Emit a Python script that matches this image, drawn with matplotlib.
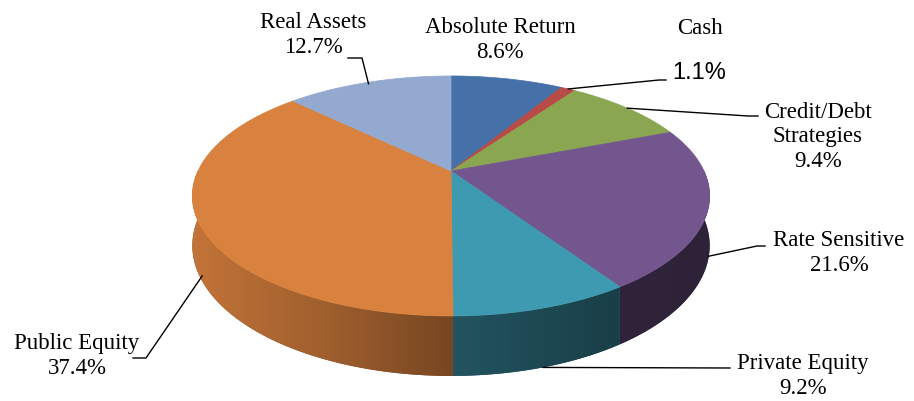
"""3D-style pie chart of asset allocation drawn with plain matplotlib patches."""
import numpy as np
import matplotlib
matplotlib.use("Agg")
import matplotlib.pyplot as plt
from matplotlib.patches import Polygon
from matplotlib.colors import to_rgb

# data
labels = ["Absolute Return", "Cash", "Credit/Debt\nStrategies", "Rate Sensitive",
          "Private Equity", "Public Equity", "Real Assets"]
shares = [8.6, 1.1, 9.4, 21.6, 9.2, 37.4, 12.7]
colors = ["#4571a8", "#b84a47", "#8aa650", "#73568e", "#3e9ab0", "#d9813e", "#93a9d0"]

# layout (pixel coords, y down); K = perspective strength
CX, CY, A, B, DEPTH, K = 451, 172, 253, 114.8, 47.5, 0.208
label_xy = [(500, 40), (700, 29), (818, 137), (839, 253), (803, 376), (77, 356), (313, 35)]
# (position inside slice, fraction of wall depth) for the leader anchor
anchor_at = [None, (0.5, 0), (0.5, 0), (0.5, 0.95), (0.5, 1.0), (0.47, 0.9), (0.5, 0.04)]
leader_mid = [None, [(659, 81), (666, 81)], [(748, 117), (758, 117)],
              [(757, 247), (765, 247)], [(730, 369)], [(146, 359), (133, 359)],
              [(362, 59), (348, 59)]]
# wall shading: brightness factor across the pie, left to right
shade_x = [192, 330, 450, 600, 710]
shade_f = [0.9, 0.73, 0.55, 0.42, 0.40]


def rim(t, depth_frac=0.0):
    """Point on the pie edge at angle t (clockwise from 12 o'clock), with simple perspective."""
    s = 1.0 / (1.0 + K * np.cos(t))
    x = CX + A * np.sin(t) * s
    y = CY - B * np.cos(t) * s + DEPTH * depth_frac * s
    return x, y


fig = plt.figure(figsize=(9.14, 4.02), dpi=100)
ax = fig.add_axes([0, 0, 1, 1])

fr = np.cumsum([0] + shares) / sum(shares)
angles = fr * 2 * np.pi

# side walls (front half only), gradient clipped to each wall
for i in range(len(shares)):
    t0, t1 = max(angles[i], np.pi / 2), min(angles[i + 1], 3 * np.pi / 2)
    if t1 <= t0:
        continue
    ts = np.linspace(t0, t1, 200)
    xt, yt = rim(ts)
    xb, yb = rim(ts, 1.0)
    pts = list(zip(xt, yt)) + list(zip(xb[::-1], yb[::-1]))
    base = np.array(to_rgb(colors[i]))
    poly = Polygon(pts, closed=True, facecolor=base * 0.55, edgecolor="none")
    ax.add_patch(poly)
    gx = np.linspace(xt.min(), xt.max(), 300)
    f = np.interp(gx, shade_x, shade_f)
    grad = np.clip(base[None, None, :] * f[None, :, None], 0, 1)
    im = ax.imshow(grad, extent=[gx[0], gx[-1], yb.max() + 1, yt.min() - 1],
                   aspect="auto", interpolation="bilinear", zorder=1.5)
    im.set_clip_path(poly)

# top face
for i in range(len(shares)):
    ts = np.linspace(angles[i], angles[i + 1], max(3, int(np.degrees(angles[i + 1] - angles[i])) + 2))
    xs, ys = rim(ts)
    pts = [(CX, CY)] + list(zip(xs, ys))
    ax.add_patch(Polygon(pts, closed=True, facecolor=colors[i], edgecolor=colors[i],
                         lw=0.5, zorder=2))

# labels and leader lines
serif = "Liberation Serif"
for i, lab in enumerate(labels):
    x, y = label_xy[i]
    pct = f"{shares[i]:.1f}%"
    if lab == "Cash":
        ax.text(x, y, lab, ha="center", va="center", fontsize=16.5, family=serif)
        ax.text(x - 1, y + 44, pct, ha="center", va="center", fontsize=17, family="Liberation Sans")
    else:
        ax.text(x, y, lab + "\n" + pct, ha="center", va="center", fontsize=16.5,
                family=serif, linespacing=1.22)
    if anchor_at[i] is not None:
        pos, dfrac = anchor_at[i]
        t = angles[i] + pos * (angles[i + 1] - angles[i])
        ax_, ay_ = rim(t, dfrac)
        pts = [(ax_, ay_)] + leader_mid[i]
        ax.plot([p[0] for p in pts], [p[1] for p in pts], color="black", lw=1.0, zorder=3)

ax.set_xlim(0, 914)
ax.set_ylim(402, 0)
ax.axis("off")
fig.savefig("out.png", dpi=100)
